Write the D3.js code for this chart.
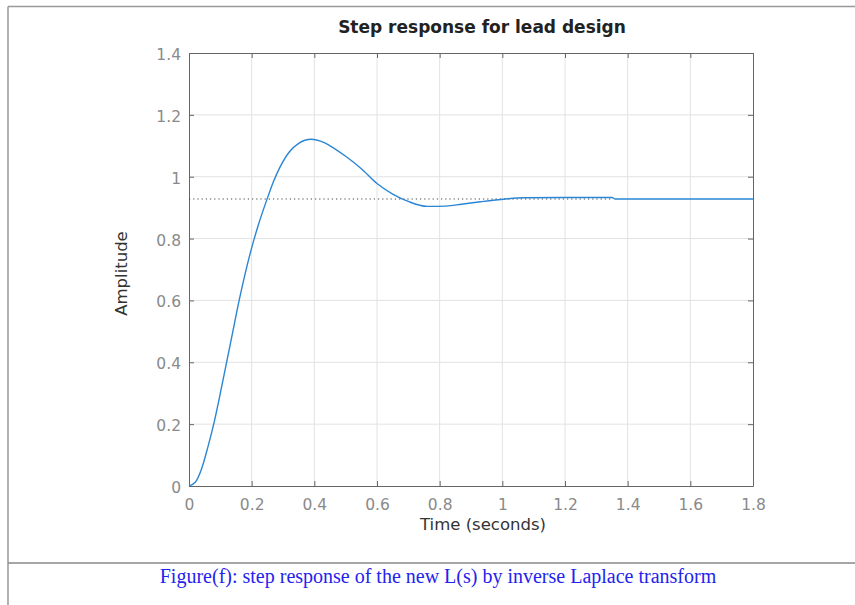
<!DOCTYPE html>
<html>
<head>
<meta charset="utf-8">
<script src="https://cdn.jsdelivr.net/npm/d3@7"></script>
<style>
  body { margin: 0; background: #fff; }
  svg { display: block; }
  .tick text { font-family: "DejaVu Sans", sans-serif; font-size: 15.5px; fill: #8a8a8a; }
  .tick line { stroke: #666; }
  .domain { stroke: #666; }
  .grid line { stroke: #e2e2e2; stroke-width: 1; }
  .label { font-family: "DejaVu Sans", sans-serif; font-size: 16.5px; fill: #333; }
  .title { font-family: "DejaVu Sans", sans-serif; font-size: 17px; font-weight: bold; fill: #222; }
  .caption { font-family: "Liberation Serif", "Times New Roman", serif; font-size: 20px; fill: #2323ee; }
</style>
</head>
<body>
<svg width="855" height="605"></svg>
<script>
// step response
const time = [0, 0.02, 0.04, 0.06, 0.08, 0.1, 0.12, 0.14, 0.16, 0.18, 0.2, 0.22, 0.25, 0.27, 0.29,
  0.32, 0.35, 0.39, 0.42, 0.45, 0.5, 0.55, 0.6, 0.65, 0.7, 0.76, 0.82, 0.87, 0.93, 1.01, 1.07,
  1.2, 1.35, 1.36, 1.8];
const amplitude = [0, 0.012, 0.055, 0.125, 0.205, 0.3, 0.4, 0.5, 0.6, 0.69, 0.77, 0.84, 0.93, 0.985, 1.03,
  1.08, 1.108, 1.121, 1.115, 1.1, 1.066, 1.026, 0.978, 0.944, 0.92, 0.904, 0.905, 0.911, 0.919, 0.928, 0.932,
  0.933, 0.933, 0.928, 0.928];
const steadyState = 0.928;
const steadyEnd = 1.35;
const xTicks = [0, 0.2, 0.4, 0.6, 0.8, 1, 1.2, 1.4, 1.6, 1.8];
const yTicks = [0, 0.2, 0.4, 0.6, 0.8, 1, 1.2, 1.4];

const svg = d3.select("svg");

const plotL = 189, plotR = 753, plotT = 53, plotB = 486;

const x = d3.scaleLinear().domain([0, 1.8]).range([plotL, plotR]);
const y = d3.scaleLinear().domain([0, 1.4]).range([plotB, plotT]);

// page frame
svg.append("line").attr("x1", 8).attr("x2", 8).attr("y1", 6.5).attr("y2", 605)
  .attr("stroke", "#888").attr("stroke-width", 1.3);
svg.append("line").attr("x1", 8).attr("x2", 855).attr("y1", 6.5).attr("y2", 6.5)
  .attr("stroke", "#999").attr("stroke-width", 1.3);
svg.append("line").attr("x1", 8).attr("x2", 855).attr("y1", 563).attr("y2", 563)
  .attr("stroke", "#888").attr("stroke-width", 1.3);

// grid
const grid = svg.append("g").attr("class", "grid");
grid.selectAll(".gx").data(xTicks.slice(1, -1)).enter().append("line")
  .attr("x1", d => x(d)).attr("x2", d => x(d)).attr("y1", plotT).attr("y2", plotB);
grid.selectAll(".gy").data(yTicks.slice(1, -1)).enter().append("line")
  .attr("x1", plotL).attr("x2", plotR).attr("y1", d => y(d)).attr("y2", d => y(d));

// axes, MATLAB style: ticks pointing in, box all round
const fmt = d => String(+d.toFixed(1));
svg.append("g").attr("transform", `translate(0,${plotB})`)
  .call(d3.axisBottom(x).tickValues(xTicks).tickFormat(fmt).tickSize(-5).tickPadding(13).tickSizeOuter(0));
svg.append("g").attr("transform", `translate(${plotL},0)`)
  .call(d3.axisLeft(y).tickValues(yTicks).tickFormat(fmt).tickSize(-5).tickPadding(8).tickSizeOuter(0))
  .selectAll("text").attr("dy", "0.42em");
svg.append("g").attr("transform", `translate(0,${plotT})`)
  .call(d3.axisTop(x).tickValues(xTicks).tickFormat("").tickSize(-5).tickSizeOuter(0))
  .select(".domain").attr("stroke", "#888");
svg.append("g").attr("transform", `translate(${plotR},0)`)
  .call(d3.axisRight(y).tickValues(yTicks).tickFormat("").tickSize(-5).tickSizeOuter(0))
  .select(".domain").attr("stroke", "#888");

// steady-state dotted line
svg.append("line")
  .attr("x1", x(0)).attr("x2", x(steadyEnd))
  .attr("y1", y(steadyState)).attr("y2", y(steadyState))
  .attr("stroke", "#444").attr("stroke-width", 1.2).attr("stroke-dasharray", "1.2,3");

// response curve
const line = d3.line().x((d, i) => x(time[i])).y(d => y(d)).curve(d3.curveMonotoneX);
svg.append("path").datum(amplitude)
  .attr("d", line)
  .attr("fill", "none")
  .attr("stroke", "#2a86d4")
  .attr("stroke-width", 1.4);

// texts
svg.append("text").attr("class", "title")
  .attr("x", 482).attr("y", 33).attr("text-anchor", "middle")
  .text("Step response for lead design");

svg.append("text").attr("class", "label")
  .attr("x", (plotL + plotR) / 2 + 12).attr("y", 530).attr("text-anchor", "middle")
  .text("Time (seconds)");

svg.append("text").attr("class", "label")
  .attr("transform", `translate(127,${(plotT + plotB) / 2 + 4}) rotate(-90)`)
  .attr("text-anchor", "middle")
  .text("Amplitude");

svg.append("text").attr("class", "caption")
  .attr("x", 438).attr("y", 583).attr("text-anchor", "middle")
  .text("Figure(f): step response of the new L(s) by inverse Laplace transform");
</script>
</body>
</html>
